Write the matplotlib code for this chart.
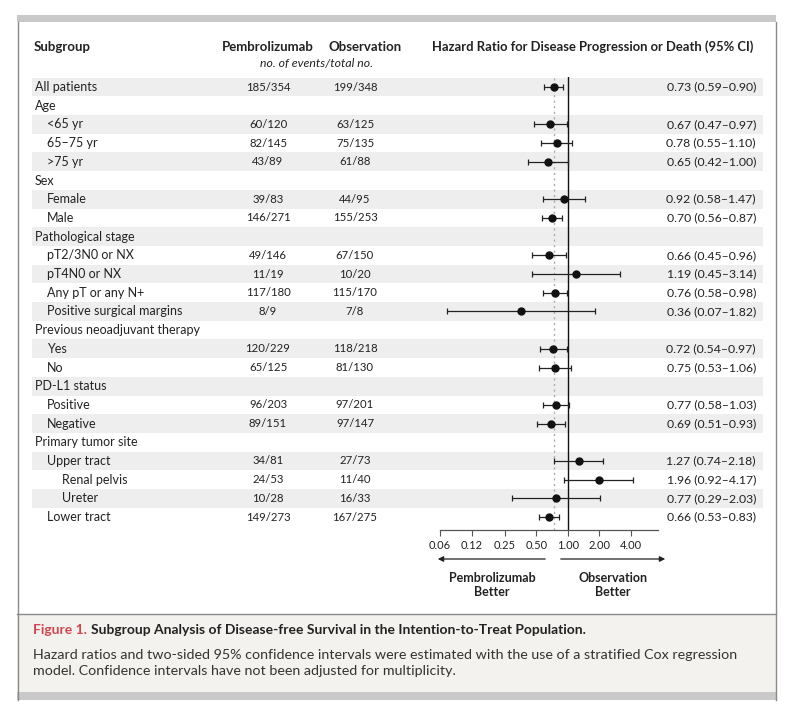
import numpy as np
import matplotlib
matplotlib.use("Agg")
import matplotlib.pyplot as plt
from matplotlib.patches import Rectangle
from matplotlib.lines import Line2D

plt.rcParams['font.family'] = ['Lato', 'DejaVu Sans']

# ---------------- data ----------------
labels = ["All patients", "Age", "<65 yr", "65–75 yr", ">75 yr", "Sex", "Female", "Male",
          "Pathological stage", "pT2/3N0 or NX", "pT4N0 or NX", "Any pT or any N+",
          "Positive surgical margins", "Previous neoadjuvant therapy", "Yes", "No",
          "PD-L1 status", "Positive", "Negative", "Primary tumor site", "Upper tract",
          "Renal pelvis", "Ureter", "Lower tract"]
levels = [0, 0, 1, 1, 1, 0, 1, 1, 0, 1, 1, 1, 1, 0, 1, 1, 0, 1, 1, 0, 1, 2, 2, 1]
pembro = ["185/354", "", "60/120", "82/145", "43/89", "", "39/83", "146/271", "",
          "49/146", "11/19", "117/180", "8/9", "", "120/229", "65/125", "",
          "96/203", "89/151", "", "34/81", "24/53", "10/28", "149/273"]
observ = ["199/348", "", "63/125", "75/135", "61/88", "", "44/95", "155/253", "",
          "67/150", "10/20", "115/170", "7/8", "", "118/218", "81/130", "",
          "97/201", "97/147", "", "27/73", "11/40", "16/33", "167/275"]
hr = [0.73, None, 0.67, 0.78, 0.65, None, 0.92, 0.70, None, 0.66, 1.19, 0.76, 0.36, None,
      0.72, 0.75, None, 0.77, 0.69, None, 1.27, 1.96, 0.77, 0.66]
lo = [0.59, None, 0.47, 0.55, 0.42, None, 0.58, 0.56, None, 0.45, 0.45, 0.58, 0.07, None,
      0.54, 0.53, None, 0.58, 0.51, None, 0.74, 0.92, 0.29, 0.53]
hi = [0.90, None, 0.97, 1.10, 1.00, None, 1.47, 0.87, None, 0.96, 3.14, 0.98, 1.82, None,
      0.97, 1.06, None, 1.03, 0.93, None, 2.18, 4.17, 2.03, 0.83]
overall_hr = 0.73
xticks = [0.06, 0.12, 0.25, 0.50, 1.00, 2.00, 4.00]
xticklabels = ["0.06", "0.12", "0.25", "0.50", "1.00", "2.00", "4.00"]

# ---------------- figure ----------------
W, H = 785, 716
fig = plt.figure(figsize=(W / 100, H / 100), dpi=100)
fig.patch.set_facecolor("white")

def fx(x):
    return x / W

def fy(y):
    return 1 - y / H

TXT = "#222222"

# frame
fig.add_artist(Rectangle((fx(17), fy(22)), fx(776) - fx(17), fy(15) - fy(22),
                         transform=fig.transFigure, facecolor="#c9c9c9", edgecolor="none", zorder=-5))
fig.add_artist(Rectangle((fx(17), fy(700)), fx(776) - fx(17), fy(692) - fy(700),
                         transform=fig.transFigure, facecolor="#c9c9c9", edgecolor="none", zorder=-5))
fig.add_artist(Rectangle((fx(17), fy(692)), fx(776) - fx(17), fy(614) - fy(692),
                         transform=fig.transFigure, facecolor="#f3f2ee", edgecolor="none", zorder=-5))
for xx in (17.5, 775.5):
    fig.add_artist(Line2D([fx(xx), fx(xx)], [fy(22), fy(700)], transform=fig.transFigure,
                          color="#8a8a8a", lw=1.0, zorder=-4))
fig.add_artist(Line2D([fx(17), fx(776)], [fy(614), fy(614)], transform=fig.transFigure,
                      color="#8a8a8a", lw=1.0, zorder=-4))

n = len(labels)
top_px, bot_px = 77, 530
row0_px, row_h = 87, 18.7
ylim = ((bot_px - row0_px) / row_h, (top_px - row0_px) / row_h)

# table axes (full width)
tab = fig.add_axes([0, fy(bot_px), 1, fy(top_px) - fy(bot_px)])
tab.set_xlim(0, W)
tab.set_ylim(*ylim)
tab.axis("off")
tab.set_zorder(1)

for i in range(n):
    if i % 2 == 0:
        tab.axhspan(i - 0.5, i + 0.5, xmin=fx(32), xmax=fx(763), color="#eeeeee", lw=0, zorder=0)
    tab.text([35, 47, 62][levels[i]], i, labels[i], ha="left", va="center", fontsize=9, color=TXT)
    if pembro[i]:
        tab.text(268, i, pembro[i], ha="center", va="center", fontsize=8.2, color=TXT)
    if observ[i]:
        tab.text(355, i, observ[i], ha="center", va="center", fontsize=8.2, color=TXT)
    if hr[i] is not None:
        tab.text(756, i, f"{hr[i]:.2f} ({lo[i]:.2f}–{hi[i]:.2f})", ha="right", va="center",
                 fontsize=8.8, color=TXT)

# forest axes
ax = fig.add_axes([fx(440), fy(bot_px), fx(658) - fx(440), fy(top_px) - fy(bot_px)])
ax.set_zorder(2)
ax.patch.set_visible(False)
ax.set_xscale("log", base=2)
ax.set_xlim(0.06, 7.25)
ax.set_ylim(*ylim)
for s in ("top", "right", "left"):
    ax.spines[s].set_visible(False)
ax.spines["bottom"].set_color("#555555")
ax.spines["bottom"].set_linewidth(0.9)
ax.set_yticks([])
ax.set_xticks(xticks)
ax.set_xticklabels(xticklabels)
ax.xaxis.set_minor_locator(matplotlib.ticker.NullLocator())
ax.tick_params(axis="x", direction="out", length=4, width=0.8, color="#555555",
               labelsize=8, labelcolor=TXT, pad=3)

ax.axvline(1.0, color="#111111", lw=1.0, zorder=1)
ax.axvline(overall_hr, color="#aaaaaa", lw=1.0, ls=(0, (1.5, 2.5)), zorder=1)

ys = [i for i in range(n) if hr[i] is not None]
h = np.array([hr[i] for i in ys])
l = np.array([lo[i] for i in ys])
u = np.array([hi[i] for i in ys])
ax.errorbar(h, ys, xerr=[h - l, u - h], fmt="o", ms=5, color="#111111", ecolor="#222222",
            elinewidth=0.9, capsize=2.5, capthick=0.9, zorder=3)

# headers
fig.text(fx(34), fy(47), "Subgroup", ha="left", va="center", fontsize=9.5, weight="bold", color=TXT)
fig.text(fx(268), fy(47), "Pembrolizumab", ha="center", va="center", fontsize=9.5, weight="bold", color=TXT)
fig.text(fx(365), fy(47), "Observation", ha="center", va="center", fontsize=9.5, weight="bold", color=TXT)
fig.text(fx(316), fy(63), "no. of events/total no.", ha="center", va="center", fontsize=8.8,
         style="italic", color=TXT)
fig.text(fx(432), fy(47), "Hazard Ratio for Disease Progression or Death (95% CI)", ha="left",
         va="center", fontsize=9.4, weight="bold", color=TXT)

# arrows and direction labels
fig.add_artist(matplotlib.patches.FancyArrowPatch((fx(548), fy(559)), (fx(435), fy(559)),
               transform=fig.transFigure, arrowstyle="-|>", mutation_scale=8, color="#222222", lw=0.9))
fig.add_artist(matplotlib.patches.FancyArrowPatch((fx(558), fy(559)), (fx(668), fy(559)),
               transform=fig.transFigure, arrowstyle="-|>", mutation_scale=8, color="#222222", lw=0.9))
fig.text(fx(492), fy(585), "Pembrolizumab\nBetter", ha="center", va="center", fontsize=9,
         weight="bold", color=TXT, linespacing=1.3)
fig.text(fx(613), fy(585), "Observation\nBetter", ha="center", va="center", fontsize=9,
         weight="bold", color=TXT, linespacing=1.3)

# caption
t1 = fig.text(fx(33), fy(630), "Figure 1.", ha="left", va="center", fontsize=10, weight="bold",
              color="#d0464e")
fig.canvas.draw()
bb = t1.get_window_extent(fig.canvas.get_renderer())
fig.text(bb.x1 / W + fx(4), fy(630), "Subgroup Analysis of Disease-free Survival in the Intention-to-Treat Population.",
         ha="left", va="center", fontsize=10, weight="bold", color=TXT)
fig.text(fx(33), fy(663), "Hazard ratios and two-sided 95% confidence intervals were estimated with the use of a stratified Cox regression\n"
         "model. Confidence intervals have not been adjusted for multiplicity.",
         ha="left", va="center", fontsize=10.3, color="#333333", linespacing=1.4)

fig.savefig("out.png", dpi=100)
